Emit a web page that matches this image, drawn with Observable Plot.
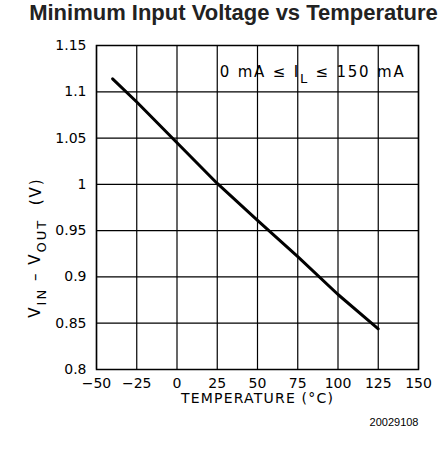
<!DOCTYPE html>
<html><head><meta charset="utf-8">
<script src="https://cdn.jsdelivr.net/npm/d3@7"></script>
<script src="https://cdn.jsdelivr.net/npm/@observablehq/plot@0.6"></script>
<style>
body{margin:0;background:#fff;}
#title{font:bold 22px "Liberation Sans",Arial,sans-serif;text-align:center;height:30px;line-height:26px;width:443px;box-sizing:border-box;padding-left:24px;color:#222;white-space:nowrap;}
</style></head><body>
<div id="title">Minimum Input Voltage vs Temperature</div>
<div id="chart"></div>
<script>
const temperature = [-40, -25, 0, 25, 50, 75, 100, 125];
const voltage = [1.114, 1.089, 1.045, 1.001, 0.961, 0.922, 0.881, 0.844];
const xTicks = [-50, -25, 0, 25, 50, 75, 100, 125, 150];
const yTicks = [0.8, 0.85, 0.9, 0.95, 1, 1.05, 1.1, 1.15];
const xLabel = "TEMPERATURE (°C)";
const yLabelParts = [["V", ""], ["IN", "sub"], [" – V", ""], ["OUT", "sub"], ["  (V)", ""]];
const legendParts = [["0 mA ≤ I", ""], ["L", "sub"], [" ≤ 150 mA", ""]];
const caption = "20029108";

const data = temperature.map((t, i) => ({t, v: voltage[i]}));
const font = "DejaVu Sans";

const plot = Plot.plot({
  width: 443,
  height: 435,
  marginLeft: 96,
  marginRight: 25,
  marginTop: 15,
  marginBottom: 96,
  style: {fontFamily: font, fontSize: "14px", color: "#000", background: "#fff"},
  x: {domain: [-50, 150], ticks: xTicks},
  y: {domain: [0.8, 1.15], ticks: yTicks},
  marks: [
    Plot.gridX(xTicks, {stroke: "#000", strokeOpacity: 1, strokeWidth: 1.2}),
    Plot.gridY(yTicks, {stroke: "#000", strokeOpacity: 1, strokeWidth: 1.2}),
    Plot.text(["LEGENDTEXT"], {frameAnchor: "top-right", dx: -13, dy: 27, lineAnchor: "middle", textAnchor: "end", fontSize: 15, fontFamily: font, text: d => d}),
    Plot.frame({stroke: "#000", strokeWidth: 1.5}),
    Plot.axisX(xTicks, {tickSize: 0, tickPadding: 9, label: null, fontSize: 14, fontFamily: font, tickFormat: d => d.toString().replace("-", "−")}),
    Plot.axisY(yTicks, {tickSize: 0, tickPadding: 10, label: null, fontSize: 14, fontFamily: font, tickFormat: d => String(d)}),
    Plot.text([xLabel], {frameAnchor: "bottom", dy: 29, lineAnchor: "middle", fontSize: 14, fontFamily: font, text: d => d}),
    Plot.text(["YLABELTEXT"], {frameAnchor: "left", dx: -61, dy: 40, lineAnchor: "middle", textAnchor: "middle", rotate: -90, fontSize: 15, fontFamily: font, text: d => d}),
    Plot.text([caption], {frameAnchor: "bottom-right", dy: 53, lineAnchor: "middle", textAnchor: "end", fontSize: 11, fontFamily: "Liberation Sans", text: d => d}),
    Plot.line(data, {x: "t", y: "v", stroke: "#000", strokeWidth: 3})
  ]
});
document.getElementById("chart").appendChild(plot);

function fill(textEl, parts, spacing, subSize) {
  textEl.textContent = "";
  let shifted = false;
  for (const [s, kind] of parts) {
    const ts = document.createElementNS("http://www.w3.org/2000/svg", "tspan");
    ts.textContent = s;
    if (kind === "sub") {
      ts.setAttribute("font-size", subSize);
      if (!shifted) { ts.setAttribute("dy", "0.4em"); shifted = true; }
    } else if (shifted) {
      ts.setAttribute("dy", "-0.34em"); shifted = false;
    }
    textEl.appendChild(ts);
  }
  textEl.setAttribute("xml:space", "preserve");
  textEl.style.whiteSpace = "pre";
  if (spacing) textEl.style.letterSpacing = spacing;
}
const texts = Array.from(plot.querySelectorAll("text"));
const find = s => texts.find(t => t.textContent === s);
const yl = find("YLABELTEXT");
if (yl) fill(yl, yLabelParts, "2px", "13");
const xl = find(xLabel);
if (xl) xl.style.letterSpacing = "1.2px";
const lg = find("LEGENDTEXT");
if (lg) {
  fill(lg, legendParts, "1.8px", "13");
  const bb = lg.getBBox();
  const rect = document.createElementNS("http://www.w3.org/2000/svg", "rect");
  rect.setAttribute("x", bb.x - 4);
  rect.setAttribute("y", bb.y - 3);
  rect.setAttribute("width", bb.width + 8);
  rect.setAttribute("height", bb.height + 2);
  rect.setAttribute("fill", "#fff");
  lg.parentNode.insertBefore(rect, lg);
}
</script>
</body></html>
